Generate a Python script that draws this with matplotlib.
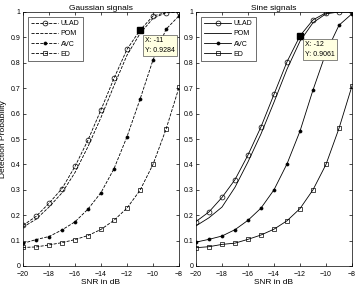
import matplotlib.pyplot as plt
import numpy as np

plt.rcParams['font.family'] = ['Liberation Sans', 'DejaVu Sans']

snr = [-20, -19, -18, -17, -16, -15, -14, -13, -12, -11, -10, -9, -8]

# Gaussian signals
g_ulad = [0.160, 0.195, 0.247, 0.305, 0.392, 0.496, 0.615, 0.739, 0.853, 0.9284, 0.984, 0.998, 1.0]
g_pom = [0.153, 0.184, 0.232, 0.288, 0.368, 0.470, 0.585, 0.710, 0.830, 0.915, 0.975, 0.997, 1.0]
g_avc = [0.089, 0.104, 0.116, 0.142, 0.174, 0.224, 0.289, 0.383, 0.509, 0.656, 0.811, 0.932, 0.985]
g_ed = [0.073, 0.075, 0.083, 0.092, 0.104, 0.120, 0.144, 0.180, 0.228, 0.298, 0.400, 0.538, 0.703]

# Sine signals
s_ulad = [0.175, 0.213, 0.270, 0.340, 0.437, 0.548, 0.676, 0.804, 0.9061, 0.969, 0.997, 1.0, 1.0]
s_pom = [0.158, 0.190, 0.232, 0.310, 0.410, 0.520, 0.645, 0.775, 0.885, 0.958, 0.993, 1.0, 1.0]
s_avc = [0.094, 0.105, 0.118, 0.143, 0.180, 0.228, 0.300, 0.402, 0.531, 0.693, 0.840, 0.948, 0.993]
s_ed = [0.072, 0.076, 0.085, 0.090, 0.105, 0.122, 0.145, 0.178, 0.226, 0.300, 0.400, 0.542, 0.709]

tip_g = (-11, 0.9284)
tip_s = (-12, 0.9061)

fig = plt.figure(figsize=(3.57, 2.9), dpi=100)
ax1 = fig.add_axes([23/357, 24/290, 156/357, 254/290])
ax2 = fig.add_axes([196/357, 24/290, 156/357, 254/290])

def draw(ax, ulad, pom, avc, ed, ls, title, tip, tipbox):
    lw = 0.6
    ax.plot(snr, ulad, ls, color='k', lw=lw, marker='o', ms=3.5, mfc='none', mew=0.5, label='ULAD')
    ax.plot(snr, pom, ls, color='k', lw=lw, label='POM')
    ax.plot(snr, avc, ls, color='k', lw=lw, marker='o', ms=2.2, mfc='k', mew=0.5, label='AVC')
    ax.plot(snr, ed, ls, color='k', lw=lw, marker='s', ms=3.0, mfc='none', mew=0.5, label='ED')
    ax.plot(tip[0], tip[1], 's', color='k', ms=4)
    ax.text(tipbox[0], tipbox[1], 'X: %g\nY: %s' % (tip[0], str(tip[1])), fontsize=5,
            va='top', ha='left', linespacing=1.6,
            bbox=dict(boxstyle='square,pad=0.3', fc='#ffffe1', ec='#555555', lw=0.5))
    ax.set_xlim(-20, -8)
    ax.set_ylim(0, 1)
    ax.set_xticks(range(-20, -7, 2))
    ax.set_yticks(np.arange(0, 1.01, 0.1))
    ax.set_yticklabels(['0', '0.1', '0.2', '0.3', '0.4', '0.5', '0.6', '0.7', '0.8', '0.9', '1'])
    ax.tick_params(direction='in', top=True, right=True, labelsize=5, length=2.5, width=0.5, pad=2)
    ax.tick_params(axis='x', pad=3.5)
    for s in ax.spines.values():
        s.set_linewidth(0.5)
    ax.set_title(title, fontsize=6, pad=1.5)
    ax.set_xlabel('SNR in dB', fontsize=6, labelpad=1)
    leg = ax.legend(loc='upper left', fontsize=5, frameon=True, fancybox=False,
                    edgecolor='k', handlelength=3.8, handletextpad=0.4,
                    borderaxespad=0.7, labelspacing=0.45, borderpad=0.5)
    leg.get_frame().set_linewidth(0.5)

draw(ax1, g_ulad, g_pom, g_avc, g_ed, '--', 'Gaussian signals', tip_g, (-10.6, 0.9))
draw(ax2, s_ulad, s_pom, s_avc, s_ed, '-', 'Sine signals', tip_s, (-11.6, 0.885))
ax1.set_ylabel('Detection Probability', fontsize=6)
ax1.yaxis.set_label_coords(-0.105, 0.5)

fig.savefig('out.png', dpi=100)
